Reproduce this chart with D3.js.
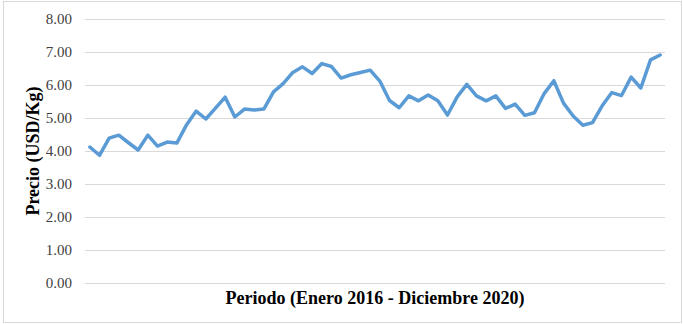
<!DOCTYPE html>
<html>
<head>
<meta charset="utf-8">
<script src="https://cdn.jsdelivr.net/npm/d3@7"></script>
<style>
  body { margin: 0; background: #fff; }
  svg { display: block; }
</style>
</head>
<body>
<svg width="683" height="324"></svg>
<script>
// Monthly price, Jan 2016 - Dec 2020 (USD/Kg)
const months = d3.range(60);
const prices = [
  4.12, 3.87, 4.39, 4.48, 4.25, 4.03, 4.48, 4.15, 4.27, 4.24, 4.79, 5.21,
  4.97, 5.30, 5.63, 5.03, 5.27, 5.24, 5.27, 5.79, 6.04, 6.38, 6.55, 6.35,
  6.65, 6.56, 6.21, 6.31, 6.38, 6.45, 6.12, 5.53, 5.31, 5.67, 5.52, 5.70,
  5.52, 5.09, 5.64, 6.02, 5.67, 5.52, 5.67, 5.29, 5.42, 5.08, 5.16, 5.74,
  6.13, 5.45, 5.06, 4.78, 4.86, 5.37, 5.77, 5.68, 6.24, 5.91, 6.76, 6.91
];
const yTicks = [0, 1, 2, 3, 4, 5, 6, 7, 8];

const svg = d3.select("svg");
const font = "'Liberation Serif', 'Times New Roman', serif";

// chart area border
svg.append("rect")
    .attr("x", 3.5).attr("y", 1.5)
    .attr("width", 678).attr("height", 321)
    .attr("fill", "none")
    .attr("stroke", "#d9d9d9");

const x = d3.scaleBand()
    .domain(months)
    .range([85, 665]);

const y = d3.scaleLinear()
    .domain([0, 8])
    .range([283, 19]);

// gridlines
svg.append("g")
  .selectAll("line")
  .data(yTicks).enter()
  .append("line")
    .attr("x1", 85).attr("x2", 665)
    .attr("y1", d => Math.round(y(d)) + 0.5)
    .attr("y2", d => Math.round(y(d)) + 0.5)
    .attr("stroke", "#d9d9d9")
    .attr("stroke-width", 1);

// tick labels
svg.append("g")
  .selectAll("text")
  .data(yTicks).enter()
  .append("text")
    .attr("x", 72)
    .attr("y", d => y(d) + 5)
    .attr("text-anchor", "end")
    .style("font-family", font)
    .style("font-size", "15px")
    .style("fill", "#404040")
    .text(d => d3.format(".2f")(d));

// line
const line = d3.line()
    .x((d, i) => x(months[i]) + x.bandwidth() / 2)
    .y(d => y(d));

svg.append("path")
    .datum(prices)
    .attr("fill", "none")
    .attr("stroke", "#5B9BD5")
    .attr("stroke-width", 3.5)
    .attr("stroke-linejoin", "round")
    .attr("stroke-linecap", "round")
    .attr("d", line);

// axis titles
svg.append("text")
    .attr("transform", "translate(39,151)rotate(-90)")
    .attr("text-anchor", "middle")
    .style("font-family", font)
    .style("font-size", "18px")
    .style("font-weight", "bold")
    .text("Precio (USD/Kg)");

svg.append("text")
    .attr("x", 375)
    .attr("y", 304)
    .attr("text-anchor", "middle")
    .style("font-family", font)
    .style("font-size", "18px")
    .style("font-weight", "bold")
    .text("Periodo (Enero 2016 - Diciembre 2020)");
</script>
</body>
</html>
